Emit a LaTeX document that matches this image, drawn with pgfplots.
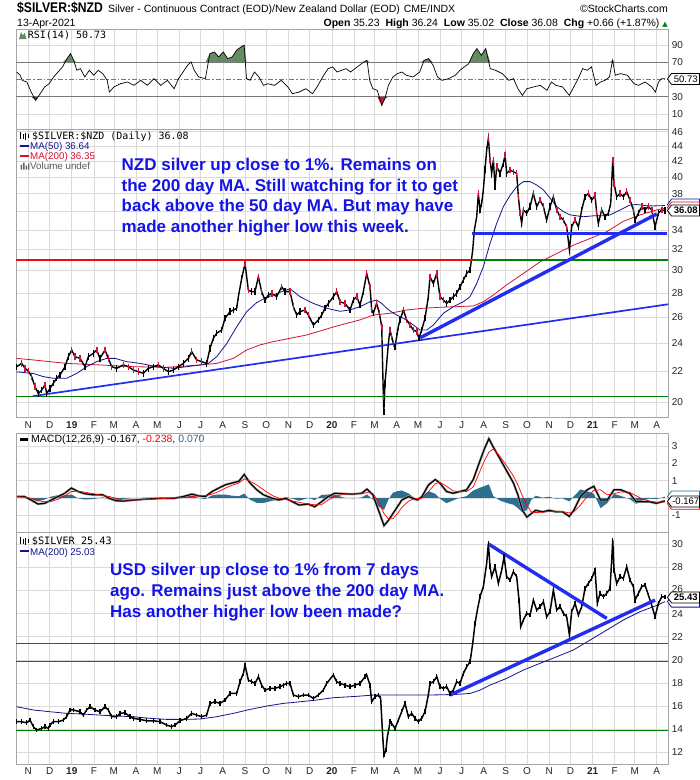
\documentclass[border=0pt]{standalone}
\usepackage{pgfplots}
\pgfplotsset{compat=1.18}
\usepackage{pgfplotstable}
\usepackage{fontspec}
\usepackage{graphicx}
\setmainfont{Liberation Sans}
\newfontfamily\monofont{DejaVu Sans Mono}
\newfontfamily\symfont{DejaVu Sans}

\definecolor{maNavy}{RGB}{20,20,140}
\definecolor{maRed}{RGB}{210,20,50}
\definecolor{candleRed}{RGB}{205,20,55}
\definecolor{noteBlue}{RGB}{20,20,230}
\definecolor{trendBlue}{RGB}{35,45,240}
\definecolor{lineGreen}{RGB}{0,128,0}
\definecolor{lineRed}{RGB}{240,10,10}
\definecolor{rsiGreen}{RGB}{100,140,100}
\definecolor{histBlue}{RGB}{45,110,145}
\definecolor{gridGray}{RGB}{218,218,218}
\definecolor{frameGray}{RGB}{165,165,165}
\definecolor{levelGray}{RGB}{120,120,120}

\pgfplotstableread{
x y c
-16.3 22.30 0
-9.3 22.53 1
-4.6 22.19 1
0.1 22.00 1
4.7 21.63 1
9.4 20.97 1
14.1 20.53 0
18.8 20.75 0
23.4 21.08 1
25.8 20.53 0
30.5 20.86 0
35.1 21.19 0
39.8 21.52 0
44.5 21.74 0
51.5 22.30 0
56.2 23.00 0
60.9 23.48 1
65.5 23.00 1
72.6 22.88 1
79.6 22.30 0
84.3 23.00 0
91.3 23.24 0
96.0 23.48 1
100.6 22.88 0
107.7 23.48 1
112.3 22.88 1
117.0 22.30 1
124.0 22.19 0
133.4 22.42 1
140.4 22.30 1
147.4 22.07 1
154.4 21.96 1
161.5 21.85 0
168.5 22.19 0
175.5 22.30 0
182.5 22.42 1
189.5 22.19 1
196.5 21.96 0
203.6 22.07 0
210.6 22.30 0
217.6 22.53 0
224.6 22.88 0
229.3 23.36 1
236.3 22.77 1
243.3 22.65 1
250.3 22.53 0
255.0 23.60 0
259.7 24.34 0
264.4 24.72 0
271.4 24.97 0
276.1 25.89 0
283.1 26.42 0
287.8 26.56 0
292.5 26.70 0
294.8 27.67 0
299.5 29.27 0
304.2 30.65 1
308.8 28.24 1
313.5 28.10 0
318.2 28.10 0
322.9 29.42 1
327.5 28.10 1
332.2 27.38 0
336.9 27.81 0
341.6 27.95 1
348.6 27.67 0
355.6 28.53 1
360.3 28.10 0
367.3 28.10 1
372.0 26.83 1
376.7 26.15 0
381.3 26.42 0
388.4 26.56 1
393.0 26.15 1
400.1 25.36 0
407.1 25.76 0
411.8 26.15 0
416.4 26.70 0
421.1 27.10 0
428.1 27.67 0
432.8 28.10 1
437.5 27.24 1
444.5 27.10 1
451.5 26.56 0
456.2 27.38 0
460.9 27.67 1
465.5 26.97 0
470.2 28.10 0
474.9 29.72 1
479.6 28.53 1
481.9 26.56 1
484.2 26.29 0
488.9 27.10 1
492.7 26.29 1
496.0 25.22 1
498.3 20.33 1
499.0 19.40 0
500.6 21.18 0
503.0 22.53 0
505.3 23.96 0
507.6 24.97 1
510.0 24.46 1
512.3 23.96 1
514.7 23.71 0
517.0 24.46 0
519.3 25.22 0
521.7 25.76 0
526.4 26.56 1
531.0 25.76 1
535.7 25.36 1
540.4 24.97 1
545.1 24.85 1
548.3 24.34 0
552.1 24.97 0
556.8 25.89 0
561.4 27.67 0
563.8 29.42 1
568.5 28.82 0
573.2 29.72 1
577.8 27.67 1
582.5 27.38 1
587.2 27.10 0
591.9 27.38 0
596.5 27.67 0
601.2 27.95 0
605.9 28.53 0
610.6 29.12 0
615.3 29.72 0
620.0 30.03 0
623.7 31.95 0
626.0 33.98 0
629.3 35.40 0
631.6 38.04 1
634.0 36.15 0
636.3 36.89 0
638.6 38.44 0
641.0 40.95 0
643.3 43.45 0
645.7 45.07 1
648.0 42.15 1
650.3 40.45 0
652.7 42.15 1
655.0 38.84 0
657.4 41.30 1
662.0 40.45 0
666.7 41.73 0
669.1 42.80 1
671.4 40.45 0
676.1 40.87 1
680.8 40.66 1
685.4 40.45 1
687.8 37.65 1
690.1 35.78 1
692.4 34.69 0
694.8 36.15 1
699.5 35.78 0
704.2 36.52 0
708.8 38.04 1
713.5 36.52 0
718.2 37.26 1
722.9 36.52 1
727.5 35.03 0
732.2 36.52 0
736.9 37.65 1
741.6 36.15 1
746.3 35.40 1
751.0 35.03 1
755.6 34.32 1
759.4 31.95 0
762.6 34.32 0
767.3 35.03 1
772.0 34.32 0
776.7 36.15 0
781.3 37.65 0
786.0 38.04 1
790.7 37.26 0
795.4 37.80 1
797.7 35.78 1
800.0 34.69 0
804.7 36.15 1
809.4 35.40 0
814.1 35.78 0
817.4 36.89 0
820.2 42.15 1
822.0 39.24 1
825.8 37.65 0
830.5 38.04 1
835.1 37.65 0
839.8 38.24 1
844.5 37.26 1
849.2 36.15 1
851.5 35.03 0
856.2 35.78 0
860.9 36.52 1
865.5 36.15 0
870.2 36.52 1
874.9 36.15 1
879.6 34.32 0
884.3 35.78 0
889.0 36.15 1
893.6 36.08 0
}\nzd

\pgfplotstableread{
x y
-16.3 21.95
7.1 21.84
21.1 21.63
35.1 21.52
53.8 21.52
67.9 21.84
81.9 22.30
96.0 22.65
110.0 22.88
121.7 22.88
138.1 22.65
156.8 22.53
180.2 22.30
203.6 22.19
222.3 22.30
241.0 22.42
252.7 22.53
264.4 23.00
278.4 23.94
292.5 25.22
306.5 26.42
320.5 27.17
334.6 27.60
353.3 28.05
367.3 28.35
381.3 27.67
400.1 27.10
418.8 26.70
437.5 26.45
451.5 26.56
465.5 26.83
479.6 27.24
488.9 27.38
496.0 27.10
503.0 26.70
512.3 26.29
526.4 25.89
540.4 25.36
549.7 24.97
559.1 24.97
568.5 25.36
582.5 26.29
596.5 26.83
610.6 27.24
620.0 27.67
629.3 28.82
638.6 30.34
648.0 32.60
657.4 34.69
666.7 36.52
676.1 37.80
685.4 38.84
694.8 39.44
704.2 39.44
713.5 39.04
722.9 38.44
732.2 37.50
741.6 36.52
751.0 35.96
760.3 35.60
769.6 35.50
779.0 35.40
793.0 35.50
807.1 35.50
816.4 35.60
825.8 35.96
835.1 36.33
844.5 36.70
853.8 36.75
867.9 36.62
877.2 36.60
893.6 36.64
}\nzdma

\pgfplotstableread{
x y
-16.3 22.88
7.1 22.77
30.5 22.65
53.8 22.53
100.6 22.42
147.4 22.30
194.2 22.26
241.0 22.42
264.4 22.53
287.8 22.88
306.5 23.48
325.2 23.85
343.9 24.09
367.3 24.34
390.7 24.59
414.1 24.97
432.8 25.28
465.5 25.76
484.2 26.15
507.6 26.29
531.0 26.56
554.4 26.70
577.8 26.78
601.2 26.83
624.6 26.89
638.6 27.24
652.7 27.81
671.4 28.70
694.8 29.72
718.2 30.80
741.6 31.60
765.0 32.43
788.4 33.10
811.7 33.80
835.1 34.90
858.5 35.60
881.9 36.15
893.6 36.35
}\nzdmb

\pgfplotstableread{
x y
-16.3 14.66
-9.3 14.66
-2.3 14.57
2.4 14.80
7.1 14.23
11.7 13.94
18.8 14.08
23.4 14.23
28.1 14.08
30.5 14.37
35.1 14.66
42.2 14.66
49.2 14.80
53.8 15.09
58.5 15.67
63.2 15.67
72.6 15.52
77.2 15.23
81.9 15.67
86.6 15.95
93.6 15.67
100.6 15.52
107.7 15.95
112.3 15.67
117.0 15.09
124.0 15.09
128.7 15.38
135.7 15.43
142.7 15.09
147.4 14.95
156.8 14.86
166.1 14.74
175.5 14.74
184.8 14.66
194.2 14.37
201.2 14.23
205.9 14.37
212.9 14.74
222.3 14.95
229.3 15.38
236.3 15.23
243.3 15.09
250.3 15.23
255.0 16.24
262.0 16.38
269.1 16.24
276.1 16.53
283.1 17.10
292.5 17.10
297.1 18.11
301.8 18.83
304.2 19.55
308.8 18.26
313.5 18.11
318.2 17.97
322.9 18.54
327.5 17.82
332.2 17.39
339.2 17.54
346.2 17.54
353.3 17.68
357.9 17.82
362.6 17.97
367.3 17.97
372.0 16.96
379.0 16.82
386.0 16.96
393.0 16.96
400.1 16.67
407.1 16.96
414.1 17.39
418.8 17.97
428.1 18.69
432.8 18.11
437.5 17.97
444.5 17.82
451.5 17.68
458.5 17.82
465.5 17.97
472.6 18.54
474.9 18.69
479.6 17.82
481.9 16.38
486.6 16.82
491.3 16.96
494.5 16.67
497.4 13.36
499.2 11.78
502.0 12.21
503.9 13.36
505.8 13.94
507.6 14.66
510.0 14.51
514.7 14.08
519.3 14.80
524.0 15.52
528.7 16.24
533.4 15.09
538.1 15.38
542.7 14.95
547.4 14.66
552.1 14.95
556.8 15.52
561.4 16.96
563.8 17.97
568.5 18.11
573.2 18.54
577.8 17.68
582.5 17.54
587.2 17.68
591.9 17.10
596.5 17.39
601.2 18.11
605.9 17.97
610.6 18.83
615.3 19.41
620.0 19.84
623.7 21.42
627.0 23.15
630.2 24.30
634.0 25.45
638.6 26.32
643.3 28.33
645.7 30.06
648.0 28.04
650.3 27.18
655.0 28.04
659.7 26.60
664.4 27.75
667.7 28.91
671.4 27.18
676.1 26.89
680.8 27.61
685.4 27.18
688.7 25.16
691.1 22.86
694.8 23.44
699.5 24.01
704.2 23.87
708.8 25.16
713.5 24.30
718.2 24.59
722.9 25.02
727.5 23.72
732.2 24.16
736.9 26.03
741.6 24.30
746.3 24.59
751.0 24.01
755.6 23.72
759.4 22.14
762.6 24.16
767.3 24.88
772.0 23.87
776.7 24.59
781.3 26.17
786.0 26.60
790.7 27.04
795.4 27.75
798.6 24.88
802.4 25.74
807.1 25.45
811.7 25.74
816.4 26.17
818.8 28.62
820.2 30.35
822.0 27.75
825.8 26.60
830.5 27.18
835.1 27.04
839.8 28.04
844.5 26.89
849.2 26.32
851.5 25.16
856.2 25.74
860.9 26.32
865.5 26.46
870.2 25.60
874.9 24.73
879.6 23.72
884.3 24.88
889.0 25.45
893.6 25.43
}\usd

\pgfplotstableread{
x y
-16.3 15.95
7.1 15.67
30.5 15.52
53.8 15.38
77.2 15.32
100.6 15.23
124.0 15.15
147.4 15.09
170.8 14.95
194.2 14.86
217.6 14.86
241.0 14.89
264.4 15.09
287.8 15.38
311.2 15.72
334.6 16.01
358.0 16.24
381.3 16.38
404.7 16.53
428.1 16.73
460.9 16.85
484.2 16.96
507.6 16.96
531.0 16.96
554.4 16.96
577.8 16.98
601.2 17.02
620.0 17.10
634.0 17.39
648.0 17.82
671.4 18.40
694.8 19.12
718.2 19.70
741.6 20.27
765.0 20.85
788.4 21.71
811.7 22.57
835.1 23.44
858.5 24.16
881.9 24.70
893.6 25.03
}\usdma

\pgfplotstableread{
x y
-15.9 58.7
-11.5 54.9
-8.4 49.0
-2.1 47.1
4.1 35.4
10.4 25.7
13.5 29.6
19.8 37.4
22.9 41.3
29.2 45.1
35.5 52.9
41.7 58.7
48.0 64.6
54.3 74.3
59.3 80.1
63.7 72.3
68.1 60.7
73.1 62.6
79.3 52.9
85.6 60.7
91.9 54.9
98.1 60.7
104.4 56.8
110.7 49.0
113.8 35.4
120.1 41.3
129.5 45.1
138.9 47.1
148.3 43.2
157.7 49.0
167.1 43.2
176.5 51.0
185.9 43.2
195.3 49.0
204.7 39.3
210.9 51.0
217.2 58.7
223.5 66.5
228.5 70.4
232.9 60.7
239.1 52.9
248.5 51.0
254.8 80.1
261.1 82.0
267.3 76.2
273.6 82.0
279.8 74.3
286.1 76.2
292.4 84.0
298.6 87.9
303.0 89.8
306.2 51.0
311.2 49.0
317.4 58.7
323.7 52.9
330.0 43.2
336.2 45.1
345.6 43.2
355.0 49.0
364.4 41.3
370.7 33.5
380.1 35.4
389.5 39.3
398.9 33.5
405.2 41.3
414.6 54.9
420.8 62.6
427.1 64.6
433.4 58.7
439.6 60.7
445.9 62.6
452.2 58.7
461.6 64.6
471.0 70.4
475.4 72.3
479.1 49.0
483.5 39.3
489.8 37.4
496.0 19.9
500.4 27.7
505.4 43.2
511.7 52.9
518.0 56.8
524.2 58.7
530.5 54.9
539.9 52.9
549.3 58.7
555.5 72.3
561.8 74.3
568.1 66.5
574.3 52.9
580.6 49.0
590.0 51.0
599.4 54.9
605.7 60.7
611.9 64.6
618.2 68.4
624.5 80.1
629.5 85.9
635.7 78.2
642.0 85.9
648.3 62.6
655.8 60.7
665.2 56.8
674.6 49.0
680.9 51.0
687.1 39.3
693.4 31.6
699.7 39.3
709.1 41.3
718.5 43.2
727.9 37.4
734.2 47.1
740.4 43.2
749.8 41.3
759.2 31.6
765.5 41.3
771.7 51.0
778.0 62.6
784.3 60.7
790.5 64.6
796.8 43.2
803.1 47.1
809.3 49.0
815.6 52.9
820.0 72.3
823.8 54.9
831.3 56.8
840.7 54.9
850.1 45.1
856.3 43.2
865.7 47.1
875.1 41.3
880.1 35.4
884.5 47.1
888.9 51.0
893.6 50.73
}\rsi

\pgfplotstableread{
x m s
-15.9 0.08 0.08
-5.3 0.08 0.04
4.1 -0.12 -0.02
13.5 -0.35 -0.16
22.9 -0.31 -0.22
32.3 -0.12 -0.20
41.7 0.08 -0.08
51.1 0.27 0.12
60.5 0.57 0.37
69.9 0.37 0.39
79.3 0.24 0.33
91.9 0.18 0.24
104.4 0.18 0.14
113.8 -0.02 0.08
123.2 -0.16 -0.02
132.6 -0.18 -0.12
148.3 -0.12 -0.12
167.1 -0.06 -0.08
185.9 -0.02 -0.04
204.7 -0.02 0.00
217.2 0.08 0.02
229.7 0.22 0.08
239.1 0.12 0.12
248.5 0.08 0.14
257.9 0.37 0.22
267.3 0.57 0.37
276.7 0.76 0.57
286.1 0.86 0.73
295.5 0.96 0.86
303.0 1.35 1.10
311.2 0.86 0.96
320.6 0.47 0.75
330.0 0.18 0.47
342.5 -0.02 0.14
351.9 -0.12 -0.02
361.3 -0.02 -0.08
370.7 -0.22 -0.18
380.1 -0.41 -0.25
392.6 -0.35 -0.35
402.0 -0.51 -0.39
411.4 -0.22 -0.39
420.8 0.08 -0.12
430.2 0.27 0.08
442.8 0.24 0.22
455.3 0.22 0.24
467.8 0.27 0.24
475.4 0.51 0.31
483.5 0.18 0.27
491.6 -0.71 -0.22
499.2 -1.59 -0.90
505.4 -1.29 -1.20
511.7 -0.90 -1.20
518.0 -0.51 -0.90
524.2 -0.12 -0.55
533.6 0.08 -0.18
539.9 -0.02 -0.08
546.2 -0.12 -0.04
552.4 0.08 -0.02
561.8 0.76 0.37
571.2 1.06 0.82
577.5 0.86 0.90
586.9 0.37 0.67
596.3 0.27 0.41
605.7 0.37 0.35
615.1 0.47 0.37
624.5 1.06 0.63
633.9 2.14 1.55
640.1 2.82 2.14
646.4 3.41 2.63
652.7 2.92 2.82
662.1 2.24 2.39
671.5 1.55 1.84
680.9 0.86 1.25
687.1 0.18 0.76
693.4 -0.71 0.12
699.7 -1.10 -0.41
705.9 -0.90 -0.80
712.2 -0.71 -0.84
721.6 -0.80 -0.82
731.0 -0.71 -0.78
740.4 -0.80 -0.76
749.8 -0.80 -0.78
759.2 -1.06 -0.86
765.5 -0.71 -0.80
774.9 0.08 -0.41
784.3 0.47 0.08
793.7 0.67 0.43
803.1 -0.12 0.47
812.5 -0.12 0.18
821.9 0.47 0.24
831.3 0.47 0.35
843.8 0.27 0.33
853.2 -0.22 0.12
862.6 -0.22 -0.08
872.0 -0.22 -0.18
881.4 -0.31 -0.24
893.6 -0.167 -0.238
}\macd

\pgfplotsset{
  panel/.style={
    scale only axis, width=652.3pt,
    xmin=-17.26, xmax=898.2,
    axis line style={draw=frameGray, line width=0.9pt},
    tick style={draw=none},
    xtick={0,30,61,92,120,151,181,212,242,273,304,334,365,395,426,457,486,517,547,578,608,639,670,700,731,761,792,823,851,882},
    grid=major,
    major grid style={draw=gridGray, line width=0.6pt},
    yticklabel pos=right,
    ticklabel style={font=\fontsize{10}{10}\selectfont, text=black!85},
    anchor=north west,
  },
  withx/.style={xticklabels={N,D,\textbf{19},F,M,A,M,J,J,A,S,O,N,D,\textbf{20},F,M,A,M,J,J,A,S,O,N,D,\textbf{21},F,M,A}},
  nox/.style={xticklabels={}},
}

% value box: y (px from top), text, border colour, font
\newcommand{\valbox}[4]{%
  \filldraw[fill=white, draw=#3, line width=0.8pt] (667.5pt,-#1pt) -- (671.5pt,{-#1pt+5.5pt}) -- (699.5pt,{-#1pt+5.5pt}) -- (699.5pt,{-#1pt-5.5pt}) -- (671.5pt,{-#1pt-5.5pt}) -- cycle;
  \node[font=#4, inner sep=0pt] at (685.8pt,-#1pt) {#2};
}
% outline-only box (a box that sits behind another one)
\newcommand{\backbox}[2]{%
  \filldraw[fill=white, draw=#2, line width=0.8pt] (667.5pt,-#1pt) -- (671.5pt,{-#1pt+5.5pt}) -- (699.5pt,{-#1pt+5.5pt}) -- (699.5pt,{-#1pt-5.5pt}) -- (671.5pt,{-#1pt-5.5pt}) -- cycle;
}

\begin{document}
\begin{tikzpicture}
\path[use as bounding box] (0pt,0pt) rectangle (700pt,-780pt);
\fill[white] (0pt,0pt) rectangle (700pt,-780pt);

% ---------- RSI panel ----------
\begin{axis}[panel, nox, at={(16pt,-29.5pt)}, height=99.8pt,
  ymin=-7.9, ymax=108.1, ytick={10,30,70,90}, yticklabels={10,30,70,90}]
\addplot[fill=rsiGreen, draw=none] table[x=x, y expr={max(\thisrow{y},70)}] {\rsi} |- (axis cs:-15.9,70) -- cycle;
\addplot[fill=candleRed, draw=none] table[x=x, y expr={min(\thisrow{y},30)}] {\rsi} |- (axis cs:-15.9,30) -- cycle;
\addplot[levelGray, line width=0.9pt] coordinates {(-17.26,70) (898.2,70)};
\addplot[levelGray, line width=0.9pt] coordinates {(-17.26,30) (898.2,30)};
\addplot[levelGray, line width=0.6pt, dash pattern=on 5pt off 2pt on 1.5pt off 2pt] coordinates {(-17.26,50) (898.2,50)};
\addplot[black, line width=0.7pt] table[x=x,y=y] {\rsi};
\end{axis}

% ---------- main NZD panel ----------
\begin{axis}[panel, withx, at={(16pt,-129.3pt)}, height=288.4pt,
  ymode=log, ymin=19.06, ymax=46.34,
  ytick={20,22,24,26,28,30,32,34,36,38,40,42,44,46},
  yticklabels={20,22,24,26,28,30,32,34,,38,40,42,44,46}]
\addplot[maRed, line width=0.8pt] table[x=x,y=y] {\nzdmb};
\addplot[maNavy, line width=0.8pt] table[x=x,y=y] {\nzdma};
\addplot[black, line width=1.4pt] table[x=x,y=y] {\nzd};
\addplot[only marks, mark=|, mark size=3.2pt, mark options={line width=1.4pt, draw=black},
  restrict expr to domain={\thisrow{c}}{-0.5:0.5}] table[x=x,y=y] {\nzd};
\addplot[only marks, mark=|, mark size=3.2pt, mark options={line width=1.6pt, draw=candleRed},
  restrict expr to domain={\thisrow{c}}{0.5:1.5}] table[x=x,y=y] {\nzd};
\addplot[lineRed, line width=1.4pt] coordinates {(-17.26,31.0) (624,31.0)};
\addplot[lineGreen, line width=1.4pt] coordinates {(624,31.0) (898.2,31.0)};
\addplot[lineGreen, line width=1.4pt] coordinates {(-17.26,20.33) (898.2,20.33)};
\addplot[trendBlue, line width=1.7pt] coordinates {(6.6,20.37) (898.2,27.03)};
\addplot[trendBlue, line width=3.4pt] coordinates {(550.0,24.38) (882,35.70)};
\addplot[trendBlue, line width=3.4pt] coordinates {(622.7,33.59) (896,33.59)};
\end{axis}

% ---------- MACD panel ----------
\begin{axis}[panel, nox, at={(16pt,-433.3pt)}, height=99.4pt,
  ymin=-2.0, ymax=3.72, ytick={-1,0,1,2,3}, yticklabels={-1,,1,2,3}]
\addplot[fill=histBlue, draw=none] table[x=x, y expr={\thisrow{m}-(\thisrow{s})}] {\macd} |- (axis cs:-15.9,0) -- cycle;
\addplot[black!35, line width=2.4pt] table[x=x,y=m] {\macd};
\addplot[black, line width=1.2pt] table[x=x,y=m] {\macd};
\addplot[red, line width=0.7pt] table[x=x,y=s] {\macd};
\end{axis}

% ---------- USD panel ----------
\begin{axis}[panel, withx, at={(16pt,-532.7pt)}, height=231.6pt,
  ymin=10.98, ymax=30.98,
  ytick={12,14,16,18,20,22,24,26,28,30},
  yticklabels={12,14,16,18,20,22,24,\raisebox{3pt}{26},28,30}]
\addplot[lineGreen, line width=1.4pt] coordinates {(-17.26,21.4) (898.2,21.4)};
\addplot[lineGreen, line width=1.4pt] coordinates {(-17.26,19.85) (898.2,19.85)};
\addplot[lineGreen, line width=1.4pt] coordinates {(-17.26,13.9) (898.2,13.9)};
\addplot[lineRed, line width=1.4pt] coordinates {(6.6,21.4) (37.4,21.4)};
\addplot[lineRed, line width=1.4pt] coordinates {(496.5,21.4) (498.5,21.4)};
\addplot[maNavy, line width=0.8pt] table[x=x,y=y] {\usdma};
\addplot[black, line width=1.5pt] table[x=x,y=y] {\usd};
\addplot[only marks, mark=|, mark size=2.4pt, mark options={line width=1.2pt, draw=black}] table[x=x,y=y] {\usd};
\addplot[trendBlue, line width=3.4pt] coordinates {(646,30.0) (811.8,23.58)};
\addplot[trendBlue, line width=3.4pt] coordinates {(591.9,16.96) (879.6,25.16)};
\end{axis}

\begin{scope}[x=1pt,y=1pt]
% ---------- header ----------
\node[anchor=base west, inner sep=0] at (17,-12.5) {\scalebox{0.87}[1]{\fontsize{14}{14}\selectfont\bfseries \$SILVER:\$NZD}};
\node[anchor=base west, inner sep=0] at (108,-12.5) {\fontsize{10.5}{10.5}\selectfont Silver - Continuous Contract (EOD)/New Zealand Dollar (EOD)\hspace{4pt}CME/INDX};
\node[anchor=base east, inner sep=0] at (668,-12.5) {\fontsize{10.5}{10.5}\selectfont ©StockCharts.com};
\node[anchor=base west, inner sep=0] at (17,-26) {\fontsize{10.5}{10.5}\selectfont 13-Apr-2021};
\node[anchor=base east, inner sep=0] at (668,-26) {\fontsize{10.5}{10.5}\selectfont \textbf{Open} 35.23\hspace{3pt} \textbf{High} 36.24\hspace{3pt} \textbf{Low} 35.02\hspace{3pt} \textbf{Close} 36.08\hspace{3pt} \textbf{Chg} +0.66 (+1.87\%) {\symfont\color{lineGreen}\fontsize{7}{7}\selectfont ▲}};

% ---------- panel legends ----------
\fill[rsiGreen] (19,-39) -- (21,-32) -- (23,-35.5) -- (24.5,-32.5) -- (26.5,-39) -- cycle;
\node[anchor=base west, inner sep=0] at (27.7,-38.5) {\monofont\fontsize{10}{10}\selectfont RSI(14) 50.73};
\foreach \xx/\ya/\yb in {20.5/-132/-139, 23/-133.5/-138.5, 25.5/-132.5/-139.5, 28/-134/-138}{
  \draw[black, line width=0.9pt] (\xx,\ya) -- (\xx,\yb);
}
\node[anchor=base west, inner sep=0] at (32,-139.3) {\monofont\fontsize{10}{10}\selectfont \$SILVER:\$NZD (Daily) 36.08};
\fill[maNavy] (20,-145.2) rectangle (29,-147.2);
\node[anchor=base west, inner sep=0] at (30,-149.5) {\fontsize{9.8}{9.8}\selectfont\color{maNavy} MA(50) 36.64};
\fill[maRed] (20,-155.2) rectangle (29,-157.2);
\node[anchor=base west, inner sep=0] at (30,-159.5) {\fontsize{9.8}{9.8}\selectfont\color{maRed} MA(200) 36.35};
\fill[black!60] (20.5,-169.5) rectangle (22,-164.5) (23,-169.5) rectangle (24.5,-162.5) (25.5,-169.5) rectangle (27,-165.5) (28,-169.5) rectangle (29.3,-163.5);
\node[anchor=base west, inner sep=0] at (30,-169.5) {\fontsize{9.8}{9.8}\selectfont\color{black!65} Volume undef};
\fill[black] (20,-438.3) rectangle (27.7,-440.6);
\node[anchor=base west, inner sep=0] at (31,-442.8) {\fontsize{10.5}{10.5}\selectfont MACD(12,26,9) -0.167, \textcolor{red}{-0.238}, \textcolor{histBlue}{0.070}};
\foreach \xx/\ya/\yb in {20.5/-537/-544, 23/-538.5/-543.5, 25.5/-537.5/-544.5, 28/-539/-543}{
  \draw[black, line width=0.9pt] (\xx,\ya) -- (\xx,\yb);
}
\node[anchor=base west, inner sep=0] at (31.7,-544) {\monofont\fontsize{10.2}{10.2}\selectfont \$SILVER 25.43};
\fill[maNavy] (20,-550.3) rectangle (28.5,-552.3);
\node[anchor=base west, inner sep=0] at (30,-555) {\fontsize{9.8}{9.8}\selectfont\color{maNavy} MA(200) 25.03};

% ---------- annotations ----------
\begin{scope}[every node/.style={anchor=base west, inner sep=0, text=noteBlue, font=\fontsize{17}{17}\selectfont\bfseries}]
\node at (121.5,-170) {NZD silver up close to 1\%. Remains on};
\node at (121.5,-191) {the 200 day MA. Still watching for it to get};
\node at (121.5,-211.7) {back above the 50 day MA. But may have};
\node at (121.5,-232.7) {made another higher low this week.};
\node at (110,-575) {USD silver up close to 1\% from 7 days};
\node at (110,-596) {ago. Remains just above the 200 day MA.};
\node at (110,-617) {Has another higher low been made?};
\end{scope}
\end{scope}

% ---------- value boxes ----------
\valbox{78.9}{50.73}{black}{\fontsize{9.5}{9.5}\selectfont}
\backbox{204.5}{maNavy}
\backbox{207.5}{maRed}
\valbox{210.5}{36.08}{black}{\fontsize{9.5}{9.5}\selectfont\bfseries}
\backbox{496.5}{histBlue}
\backbox{503.8}{red}
\valbox{501.4}{-0.167}{black}{\fontsize{9.5}{9.5}\selectfont}
\backbox{601.6}{maNavy}
\valbox{597.4}{25.43}{black}{\fontsize{9.5}{9.5}\selectfont\bfseries}
\end{tikzpicture}
\end{document}
